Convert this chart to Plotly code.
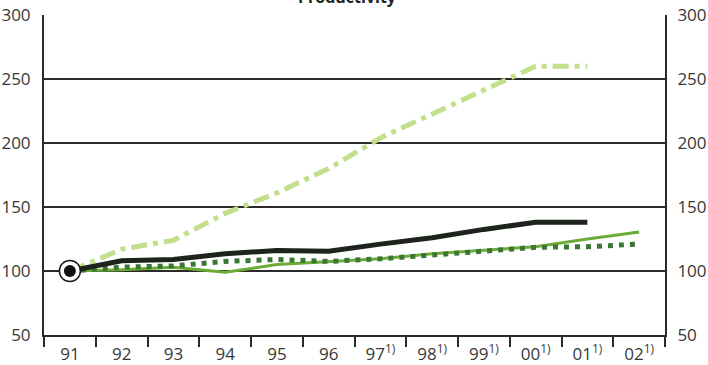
import plotly.graph_objects as go

# Index series, 1991 = 100
years = ["91", "92", "93", "94", "95", "96", "97<sup>1)</sup>", "98<sup>1)</sup>",
         "99<sup>1)</sup>", "00<sup>1)</sup>", "01<sup>1)</sup>", "02<sup>1)</sup>"]

series_black = [100, 108, 109, 113.5, 116, 115.5, 121, 126, 132.5, 138, 138]
series_green = [100, 101, 103, 99, 105, 107, 109.5, 113.5, 116.5, 119, 125, 130.5]
series_dotted = [100, 103, 104, 107.5, 109, 107.5, 109.5, 112.5, 116, 118.5, 119, 121]
series_pale = [100, 117, 124, 145, 161, 180, 204, 223, 242, 260, 260]

y_ticks = [50, 100, 150, 200, 250, 300]

FONT = "Open Sans"
TXT = "#383838"
LINE = "#2a2a2a"

fig = go.Figure()

fig.add_trace(go.Scatter(
    x=years[:len(series_pale)], y=series_pale, mode="lines",
    line=dict(color="#c2df8c", width=5, dash="16px,6px,5px,6px"),
    hoverinfo="skip"))
fig.add_trace(go.Scatter(
    x=years[:len(series_green)], y=series_green, mode="lines",
    line=dict(color="#6cab36", width=3),
    hoverinfo="skip"))
fig.add_trace(go.Scatter(
    x=years[:len(series_dotted)], y=series_dotted, mode="lines",
    line=dict(color="#3a7634", width=5, dash="5px,6px"),
    hoverinfo="skip"))
fig.add_trace(go.Scatter(
    x=years[:len(series_black)], y=series_black, mode="lines",
    line=dict(color="#1c241c", width=5),
    hoverinfo="skip"))

# Base-year marker: ringed black dot
fig.add_trace(go.Scatter(
    x=[years[0]], y=[series_black[0]], mode="markers",
    marker=dict(size=21, color="white", line=dict(color="#1c1c1c", width=1.5)),
    hoverinfo="skip"))
fig.add_trace(go.Scatter(
    x=[years[0]], y=[series_black[0]], mode="markers",
    marker=dict(size=12, color="#111111"),
    hoverinfo="skip"))

fig.update_layout(
    width=708, height=365,
    margin=dict(l=44, r=43, t=15, b=30, autoexpand=False),
    paper_bgcolor="white", plot_bgcolor="white",
    showlegend=False,
    font=dict(family=FONT, size=17, color=TXT),
    xaxis=dict(
        type="category", range=[-0.5, 11.5], automargin=False,
        tickson="boundaries", ticks="outside", ticklen=10, tickwidth=1.5,
        tickcolor=LINE, showgrid=False, showline=True,
        linecolor=LINE, linewidth=2, ticklabelstandoff=3,
        tickfont=dict(family=FONT, size=17, color=TXT),
        fixedrange=True,
    ),
    yaxis=dict(
        range=[50, 300], tickvals=y_ticks, ticks="", automargin=False,
        showgrid=True, gridcolor=LINE, gridwidth=2,
        showline=True, linecolor=LINE, linewidth=2,
        zeroline=False, ticklabelstandoff=8,
        tickfont=dict(family=FONT, size=17, color=TXT),
    ),
    yaxis2=dict(
        range=[50, 300], tickvals=y_ticks, overlaying="y", side="right",
        automargin=False,
        showgrid=False, showline=True, linecolor=LINE, linewidth=2,
        zeroline=False, ticks="", ticklabelstandoff=7,
        tickfont=dict(family=FONT, size=17, color=TXT),
    ),
)

# Dummy trace so the right axis is drawn
fig.add_trace(go.Scatter(x=[years[0]], y=[100], yaxis="y2", mode="markers",
                         marker=dict(opacity=0), hoverinfo="skip"))

# Right axis line continues below the plot, like the boundary ticks
fig.add_shape(type="line", xref="paper", yref="paper", x0=1, x1=1,
              y0=0, y1=-10 / 320, line=dict(color=LINE, width=1.5))

fig.add_annotation(
    text="<b>Productivity</b>", xref="paper", yref="paper",
    x=0.4895, y=1.016, xanchor="center", yanchor="bottom", showarrow=False,
    font=dict(family=FONT, size=16, color="#222222"))

fig.write_html("out.html")
